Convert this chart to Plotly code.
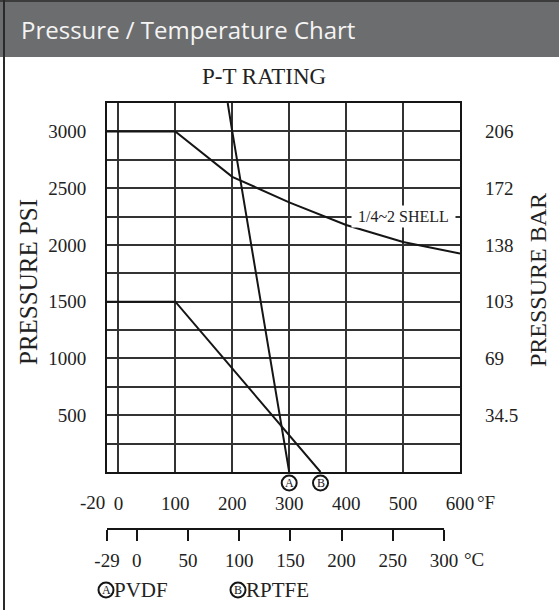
import plotly.graph_objects as go

# ---------------- data ----------------
shell_temp_f = [-20, 100, 200, 300, 400, 500, 600]
shell_psi = [3000, 3000, 2600, 2375, 2175, 2025, 1925]

pvdf_temp_f = [192, 200, 300]
pvdf_psi = [3250, 3000, 0]

rptfe_temp_f = [-20, 100, 355]
rptfe_psi = [1500, 1500, 0]

f_ticks = [0, 100, 200, 300, 400, 500, 600]
c_ticks = [-29, 0, 50, 100, 150, 200, 250, 300]
psi_grid = [0, 250, 500, 750, 1000, 1250, 1500, 1750, 2000, 2250, 2500, 2750, 3000, 3250]
psi_ticks = [500, 1000, 1500, 2000, 2500, 3000]
bar_labels = ["34.5", "69", "103", "138", "172", "206"]

F_RANGE = [-20, 600]
PSI_RANGE = [0, 3250]

# ---------------- layout helpers ----------------
W, H = 559, 610
ML, MR, MT, MB = 107, 99, 103, 70
PW, PH = W - ML - MR, H - MT - MB


def px_x(px):
    return (px - ML) / PW


def px_y(py):
    return (H - MB - py) / PH


def f_to_c(f):
    return (f - 32) * 5 / 9


SERIF = "Liberation Serif"
INK = "#151515"
GRID = "#333333"
TXT = "#222222"
TICK_SIZE = 19

fig = go.Figure()

line_style = dict(color=INK, width=2)
fig.add_trace(go.Scatter(x=shell_temp_f, y=shell_psi, mode="lines", line=line_style,
                         hoverinfo="skip", showlegend=False))
fig.add_trace(go.Scatter(x=pvdf_temp_f, y=pvdf_psi, mode="lines", line=line_style,
                         hoverinfo="skip", showlegend=False))
fig.add_trace(go.Scatter(x=rptfe_temp_f, y=rptfe_psi, mode="lines", line=line_style,
                         hoverinfo="skip", showlegend=False))

# right axis dummy
fig.add_trace(go.Scatter(x=[None], y=[None], yaxis="y2", showlegend=False, hoverinfo="skip"))
# celsius axis dummy
fig.add_trace(go.Scatter(x=[None], y=[None], xaxis="x2", showlegend=False, hoverinfo="skip"))

ydom0 = px_y(472)

fig.update_layout(
    width=W, height=H,
    margin=dict(l=ML, r=MR, t=MT, b=MB, pad=0),
    paper_bgcolor="white", plot_bgcolor="white",
    xaxis=dict(range=F_RANGE, tickvals=f_ticks, ticktext=[str(v) for v in f_ticks],
               showgrid=True, gridcolor=GRID, gridwidth=2, zeroline=False,
               showline=True, linecolor=INK, linewidth=2, mirror=True,
               ticks="", ticklabelstandoff=13, anchor="y",
               tickfont=dict(family=SERIF, size=TICK_SIZE, color=TXT)),
    yaxis=dict(range=PSI_RANGE, domain=[ydom0, 1], tickvals=psi_grid,
               ticktext=[str(v) if v in psi_ticks else "" for v in psi_grid],
               showgrid=True, gridcolor=GRID, gridwidth=2, zeroline=False,
               showline=True, linecolor=INK, linewidth=2, mirror=True,
               ticks="", ticklabelstandoff=15,
               tickfont=dict(family=SERIF, size=TICK_SIZE, color=TXT)),
    yaxis2=dict(range=PSI_RANGE, overlaying="y", side="right", tickvals=psi_ticks,
                ticktext=bar_labels, showgrid=False, zeroline=False, showline=False,
                ticks="", ticklabelstandoff=24,
                tickfont=dict(family=SERIF, size=TICK_SIZE, color=TXT)),
    xaxis2=dict(range=[-29, f_to_c(F_RANGE[1])], overlaying="x",
                anchor="free", position=px_y(529), side="bottom",
                tickvals=c_ticks, ticktext=[str(v) for v in c_ticks],
                showgrid=False, zeroline=False, showline=False,
                ticks="outside", ticklen=11, tickwidth=2, tickcolor=INK,
                ticklabelstandoff=3,
                tickfont=dict(family=SERIF, size=TICK_SIZE, color=TXT)),
)

shapes = []
# header bar
shapes.append(dict(type="rect", xref="paper", yref="paper", x0=px_x(0), x1=px_x(W),
                   y0=px_y(57), y1=px_y(0), fillcolor="#6c6d6f", line=dict(width=0), layer="below"))
shapes.append(dict(type="line", xref="paper", yref="paper", x0=px_x(0), x1=px_x(W),
                   y0=px_y(1), y1=px_y(1), line=dict(color="#3c3c3c", width=2)))
# left frame line
shapes.append(dict(type="line", xref="paper", yref="paper", x0=px_x(4), x1=px_x(4),
                   y0=px_y(0), y1=px_y(H), line=dict(color="#2a2a2a", width=2)))
# celsius baseline
shapes.append(dict(type="line", xref="x2", yref="paper", x0=c_ticks[0], x1=c_ticks[-1],
                   y0=px_y(529), y1=px_y(529), line=dict(color=INK, width=2)))
# legend circles
R = 7.5
for cx in (106, 238):
    shapes.append(dict(type="circle", xref="paper", yref="paper",
                       x0=px_x(cx - R), x1=px_x(cx + R), y0=px_y(590 + R), y1=px_y(590 - R),
                       line=dict(color=INK, width=2)))
# circled end markers below the axis at the end temperature of each line
for tx in (pvdf_temp_f[-1], rptfe_temp_f[-1]):
    shapes.append(dict(type="circle", xref="x", yref="paper", xsizemode="pixel", xanchor=tx,
                       x0=-R, x1=R, y0=px_y(483 + R), y1=px_y(483 - R),
                       line=dict(color=INK, width=2)))
fig.update_layout(shapes=shapes)

ann = []
ann.append(dict(text="Pressure / Temperature Chart", xref="paper", yref="paper",
                x=px_x(19), y=px_y(30), xanchor="left", yanchor="middle", showarrow=False,
                font=dict(family="Open Sans", size=24, color="#f4f4f4")))
ann.append(dict(text="P-T RATING", xref="paper", yref="paper", x=px_x(264), y=px_y(77),
                xanchor="center", yanchor="middle", showarrow=False,
                font=dict(family=SERIF, size=23, color=TXT)))
ann.append(dict(text="PRESSURE PSI", xref="paper", yref="paper", x=px_x(28), y=px_y(282),
                xanchor="center", yanchor="middle", showarrow=False, textangle=-90,
                font=dict(family=SERIF, size=25, color=TXT)))
ann.append(dict(text="PRESSURE BAR", xref="paper", yref="paper", x=px_x(538), y=px_y(280),
                xanchor="center", yanchor="middle", showarrow=False, textangle=-90,
                font=dict(family=SERIF, size=24, color=TXT)))
ann.append(dict(text="\u00a01/4~2 SHELL\u00a0", xref="x", yref="y", x=500, y=2250,
                xanchor="center", yanchor="middle", showarrow=False, bgcolor="white", borderpad=2,
                font=dict(family=SERIF, size=16, color=TXT)))
ann.append(dict(text="-20", xref="paper", yref="paper", x=px_x(92), y=px_y(502),
                xanchor="center", yanchor="middle", showarrow=False,
                font=dict(family=SERIF, size=TICK_SIZE, color=TXT)))
ann.append(dict(text="°F", xref="paper", yref="paper", x=px_x(475), y=px_y(502),
                xanchor="left", yanchor="middle", showarrow=False,
                font=dict(family=SERIF, size=TICK_SIZE, color=TXT)))
ann.append(dict(text="°C", xref="paper", yref="paper", x=px_x(462), y=px_y(559),
                xanchor="left", yanchor="middle", showarrow=False,
                font=dict(family=SERIF, size=TICK_SIZE, color=TXT)))
for tx, letter in ((pvdf_temp_f[-1], "A"), (rptfe_temp_f[-1], "B")):
    ann.append(dict(text=letter, xref="x", yref="paper", x=tx, y=px_y(483),
                    xanchor="center", yanchor="middle", showarrow=False,
                    font=dict(family=SERIF, size=12, color=INK)))
for cx, letter, label in ((106, "A", "PVDF"), (238, "B", "RPTFE")):
    ann.append(dict(text=letter, xref="paper", yref="paper", x=px_x(cx), y=px_y(590),
                    xanchor="center", yanchor="middle", showarrow=False,
                    font=dict(family=SERIF, size=12, color=INK)))
    ann.append(dict(text=label, xref="paper", yref="paper", x=px_x(cx + 6), y=px_y(590),
                    xanchor="left", yanchor="middle", showarrow=False,
                    font=dict(family=SERIF, size=21, color=TXT)))
fig.update_layout(annotations=ann)

fig.write_html("out.html", config={"displayModeBar": False},
               post_script="document.body.style.margin='0';document.body.style.overflow='hidden';")
